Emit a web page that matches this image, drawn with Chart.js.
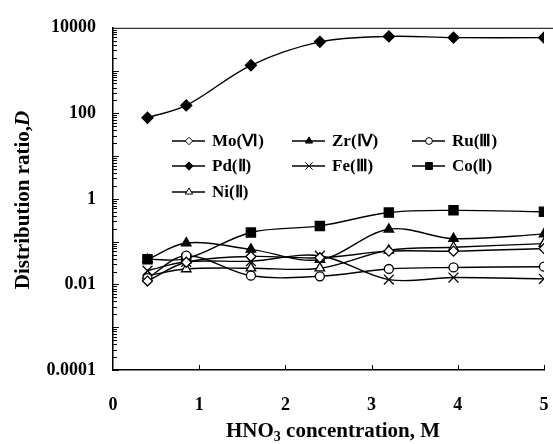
<!DOCTYPE html>
<html>
<head>
<meta charset="utf-8">
<script src="https://cdn.jsdelivr.net/npm/chart.js@4"></script>
<style>
  html, body { margin: 0; padding: 0; background: #fff; }
  #wrap { width: 553px; height: 444px; }
</style>
</head>
<body>
<div id="wrap"><canvas id="chart" width="553" height="444"></canvas></div>
<script>
/* data */
const hno3 = [0.4, 0.85, 1.6, 2.4, 3.2, 3.95, 5.0];
const moVals = [0.012, 0.033, 0.045, 0.042, 0.06, 0.06, 0.069];
const zrVals = [0.038, 0.093, 0.066, 0.038, 0.195, 0.118, 0.15];
const ruVals = [0.014, 0.047, 0.016, 0.0155, 0.023, 0.025, 0.026];
const pdVals = [79, 153, 1330, 4700, 6300, 5900, 5900];
const feVals = [0.021, 0.034, 0.035, 0.047, 0.013, 0.0145, 0.0135];
const coVals = [0.039, 0.040, 0.164, 0.234, 0.48, 0.54, 0.50];
const niVals = [0.016, 0.023, 0.024, 0.024, 0.063, 0.074, 0.09];

const seriesNames = ['Mo(Ⅵ)', 'Zr(Ⅳ)', 'Ru(Ⅲ)', 'Pd(Ⅱ)', 'Fe(Ⅲ)', 'Co(Ⅱ)', 'Ni(Ⅱ)'];
const yTickValues = [0.0001, 0.01, 1, 100, 10000];
const yTickLabels = ['0.0001', '0.01', '1', '100', '10000'];
const xTickValues = [0, 1, 2, 3, 4, 5];

const SERIF = '"Liberation Serif", "Times New Roman", serif';

// 마커 모양
const styles = [
  { pointStyle: 'rectRot', radius: 5, fill: '#fff' },
  { pointStyle: 'triangle', radius: 5.5, fill: '#000' },
  { pointStyle: 'circle', radius: 4.5, fill: '#fff' },
  { pointStyle: 'rectRot', radius: 5.5, fill: '#000' },
  { pointStyle: 'crossRot', radius: 7, fill: '#fff' },
  { pointStyle: 'rect', radius: 6.5, fill: '#000' },
  { pointStyle: 'triangle', radius: 5.5, fill: '#fff' }
];
const allVals = [moVals, zrVals, ruVals, pdVals, feVals, coVals, niVals];

const datasets = allVals.map((vals, i) => ({
  label: seriesNames[i],
  data: hno3.map((x, k) => ({ x: x, y: vals[k] })),
  borderColor: '#000',
  borderWidth: 1.4,
  backgroundColor: styles[i].fill,
  pointStyle: styles[i].pointStyle,
  pointRadius: styles[i].radius,
  pointBackgroundColor: styles[i].fill,
  pointBorderColor: '#000',
  pointBorderWidth: 1.3,
  tension: 0.35,
  fill: false
}));

/* 축 눈금(안쪽), 위 테두리 */
const frameTicks = {
  id: 'frameTicks',
  afterDatasetsDraw(chart) {
    const { ctx, chartArea: a, scales: { x, y } } = chart;
    ctx.save();
    ctx.strokeStyle = '#000';
    ctx.lineWidth = 1;
    ctx.beginPath();
    ctx.moveTo(a.left, a.top + 0.5);
    ctx.lineTo(553, a.top + 0.5);
    for (let e = -4; e < 4; e++) {
      for (let m = 1; m <= 9; m++) {
        const py = Math.round(y.getPixelForValue(m * Math.pow(10, e))) + 0.5;
        const len = m === 1 ? 6 : 4;
        ctx.moveTo(a.left, py);
        ctx.lineTo(a.left + len, py);
      }
    }
    xTickValues.slice(1).forEach(v => {
      const px = Math.round(x.getPixelForValue(v)) + 0.5;
      ctx.moveTo(px, a.bottom);
      ctx.lineTo(px, a.bottom - 5);
    });
    ctx.stroke();
    ctx.restore();
  }
};

/* 범례 + 축 제목 */
const legendTitles = {
  id: 'legendTitles',
  afterDraw(chart) {
    const { ctx, chartArea: a } = chart;
    const cols = [172, 292, 412];
    const rows = [141, 166, 192];
    ctx.save();
    chart.data.datasets.forEach((ds, i) => {
      const x0 = cols[i % 3];
      const y0 = rows[Math.floor(i / 3)];
      ctx.strokeStyle = '#000';
      ctx.lineWidth = 1.3;
      ctx.beginPath();
      ctx.moveTo(x0, y0);
      ctx.lineTo(x0 + 33, y0);
      ctx.stroke();
      ctx.fillStyle = ds.pointBackgroundColor;
      ctx.lineWidth = 1;
      Chart.helpers.drawPoint(ctx, {
        pointStyle: ds.pointStyle,
        radius: ds.pointRadius * 0.75,
        borderWidth: 1,
        rotation: 0
      }, x0 + 17, y0);
      ctx.fillStyle = '#000';
      ctx.font = 'bold 17px ' + SERIF;
      ctx.textBaseline = 'middle';
      ctx.textAlign = 'left';
      ctx.fillText(ds.label, x0 + 40, y0 + 1);
    });

    // y 제목
    ctx.translate(24, 200);
    ctx.rotate(-Math.PI / 2);
    ctx.textBaseline = 'middle';
    ctx.textAlign = 'left';
    const p1 = 'Distribution ratio,';
    ctx.font = 'bold 21px ' + SERIF;
    const w1 = ctx.measureText(p1).width;
    ctx.font = 'italic bold 21px ' + SERIF;
    const w2 = ctx.measureText('D').width;
    let sx = -(w1 + w2) / 2;
    ctx.font = 'bold 21px ' + SERIF;
    ctx.fillText(p1, sx, 0);
    ctx.font = 'italic bold 21px ' + SERIF;
    ctx.fillText('D', sx + w1, 0);
    ctx.setTransform(1, 0, 0, 1, 0, 0);

    // x 제목
    const t1 = 'HNO', t2 = '3', t3 = ' concentration, M';
    ctx.font = 'bold 21px ' + SERIF;
    const a1 = ctx.measureText(t1).width, a3 = ctx.measureText(t3).width;
    ctx.font = 'bold 14px ' + SERIF;
    const a2 = ctx.measureText(t2).width;
    let tx = 333 - (a1 + a2 + a3) / 2;
    const ty = 432;
    ctx.textBaseline = 'middle';
    ctx.font = 'bold 21px ' + SERIF;
    ctx.fillText(t1, tx, ty);
    ctx.font = 'bold 14px ' + SERIF;
    ctx.fillText(t2, tx + a1, ty + 5);
    ctx.font = 'bold 21px ' + SERIF;
    ctx.fillText(t3, tx + a1 + a2, ty);
    ctx.restore();
  }
};

new Chart(document.getElementById('chart'), {
  type: 'line',
  data: { datasets: datasets },
  options: {
    responsive: false,
    animation: false,
    layout: { padding: { top: 20, right: 0, left: 0, bottom: 0 } },
    plugins: { legend: { display: false }, tooltip: { enabled: false } },
    scales: {
      x: {
        type: 'linear',
        min: 0,
        max: 5,
        afterBuildTicks: s => { s.ticks = xTickValues.map(v => ({ value: v })); },
        afterFit: s => { s.height = 74; s.paddingRight = 9; },
        grid: { display: false, drawTicks: false },
        border: { display: true, color: '#000', width: 1.5 },
        ticks: {
          color: '#000',
          padding: 25,
          font: { family: SERIF, size: 18, weight: 'bold' },
          callback: v => String(v)
        }
      },
      y: {
        type: 'logarithmic',
        min: 0.0001,
        max: 10000,
        afterBuildTicks: s => { s.ticks = yTickValues.map(v => ({ value: v })); },
        afterFit: s => { s.width = 113; },
        grid: { display: false, drawTicks: false },
        border: { display: true, color: '#000', width: 1.5 },
        ticks: {
          color: '#000',
          padding: 17,
          font: { family: SERIF, size: 18, weight: 'bold' },
          callback: v => {
            const i = yTickValues.findIndex(t => Math.abs(t - v) / t < 1e-6);
            return i >= 0 ? yTickLabels[i] : '';
          }
        }
      }
    }
  },
  plugins: [frameTicks, legendTitles]
});
</script>
</body>
</html>
